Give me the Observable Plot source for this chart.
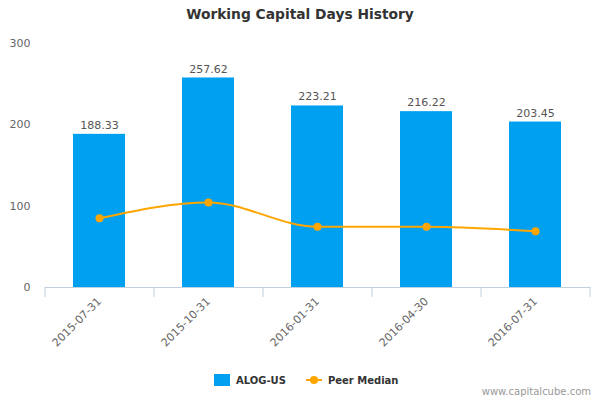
<!DOCTYPE html>
<html>
<head>
<meta charset="utf-8">
<script src="https://cdn.jsdelivr.net/npm/d3@7"></script>
<script src="https://cdn.jsdelivr.net/npm/@observablehq/plot@0.6"></script>
<style>
  body { margin: 0; background: #fff; font-family: "DejaVu Sans", sans-serif; }
  #wrap { position: relative; width: 600px; height: 400px; overflow: hidden; }
  #title { position: absolute; left: 0; top: 6px; width: 600px; text-align: center;
           font-weight: bold; font-size: 13.8px; color: #333; }
  #legend { position: absolute; left: 214px; top: 374px; display: flex;
            align-items: center; font-size: 10px; font-weight: bold; color: #333; }
  #legend .item { display: flex; align-items: center; }
  #legend .item + .item { margin-left: 20px; }
  #legend .sw { width: 16px; height: 12px; background: #00A0F0; margin-right: 6px; }
  #legend svg { margin-right: 6px; }
  #credit { position: absolute; right: 9px; top: 386px; font-size: 10px; color: #999; }
</style>
</head>
<body>
<div id="wrap">
  <div id="chart"></div>
  <div id="title">Working Capital Days History</div>
  <div id="legend">
    <div class="item"><div class="sw"></div><span>ALOG-US</span></div>
    <div class="item"><svg width="16" height="10"><line x1="0" y1="5" x2="16" y2="5" stroke="#FFA500" stroke-width="2"/><circle cx="8" cy="5" r="4" fill="#FFA500"/></svg><span>Peer Median</span></div>
  </div>
  <div id="credit">www.capitalcube.com</div>
</div>
<script>
const dates = ["2015-07-31", "2015-10-31", "2016-01-31", "2016-04-30", "2016-07-31"];
const alogValues = [188.33, 257.62, 223.21, 216.22, 203.45];
const peerValues = [85.2, 104.5, 74.6, 74.6, 69.2];
const yTicks = [0, 100, 200, 300];

const table = dates.map((d, i) => ({date: d, alog: alogValues[i], peer: peerValues[i]}));

const W = 600, H = 400, ML = 45, MR = 10, MT = 43, MB = 113;
const half = (W - ML - MR) / dates.length / 2;
const blue = "#00A0F0", orange = "#FFA500";

const chart = Plot.plot({
  width: W, height: H,
  marginLeft: ML, marginRight: MR, marginTop: MT, marginBottom: MB,
  style: {fontFamily: "DejaVu Sans, sans-serif", background: "transparent"},
  x: {domain: dates, paddingInner: 0.52, paddingOuter: 0.26, axis: null},
  y: {domain: [0, 300], axis: null},
  marks: [
    Plot.axisY({ticks: yTicks, tickSize: 0, tickPadding: 15, fontSize: 11, fill: "#666", label: null}),
    Plot.barY(table, {x: "date", y: "alog", fill: blue}),
    Plot.ruleY([0], {stroke: "#C0D0E0"}),
    Plot.axisX({ticks: dates, tickSize: 10, tickFormat: () => "", stroke: "#C0D0E0", dx: -half, label: null}),
    Plot.axisX({ticks: [dates[dates.length - 1]], tickSize: 10, tickFormat: () => "", stroke: "#C0D0E0", dx: half, label: null}),
    Plot.axisX({ticks: dates, tickSize: 0, tickPadding: 12, tickRotate: -45, fontSize: 11, fill: "#666", label: null}),
    Plot.text(table, {x: "date", y: "alog", text: d => d.alog.toFixed(2), dy: -9, fontSize: 11, fill: "#555"}),
    Plot.line(table, {x: "date", y: "peer", curve: "monotone-x", stroke: orange, strokeWidth: 2}),
    Plot.dot(table, {x: "date", y: "peer", r: 4, fill: orange})
  ]
});
document.getElementById("chart").appendChild(chart);
</script>
</body>
</html>
